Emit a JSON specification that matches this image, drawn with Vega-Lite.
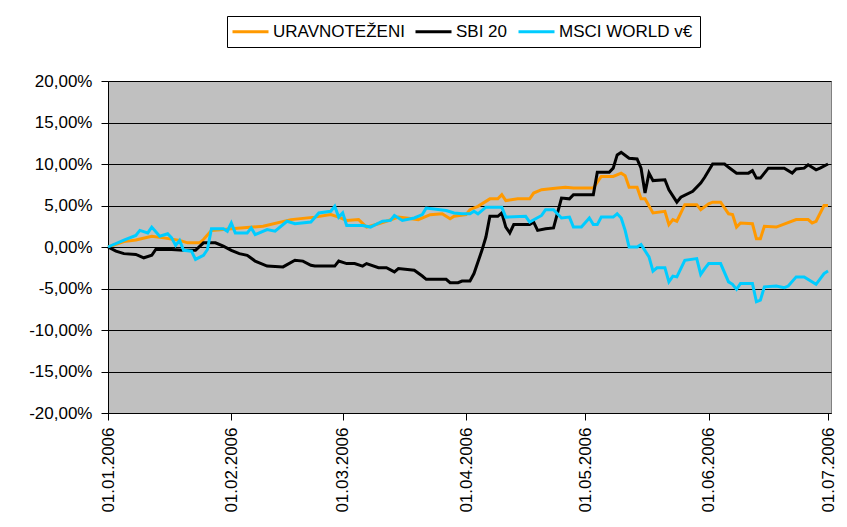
{
  "$schema": "https://vega.github.io/schema/vega-lite/v6.json",
  "width": 723,
  "height": 332,
  "autosize": {"type": "none"},
  "padding": {"left": 108, "top": 81, "right": 16, "bottom": 114},
  "background": "white",
  "config": {
    "view": {"fill": "#C0C0C0", "stroke": "#808080", "strokeWidth": 1},
    "font": "Liberation Sans"
  },
  "data": {"values": [
{"series":"URAVNOTEŽENI","date":"2006-01-01","value":0},{"series":"URAVNOTEŽENI","date":"2006-01-05","value":0.65},{"series":"URAVNOTEŽENI","date":"2006-01-08","value":0.84},{"series":"URAVNOTEŽENI","date":"2006-01-12","value":1.3},{"series":"URAVNOTEŽENI","date":"2006-01-15","value":1.1},{"series":"URAVNOTEŽENI","date":"2006-01-19","value":0.8},{"series":"URAVNOTEŽENI","date":"2006-01-21","value":0.5},{"series":"URAVNOTEŽENI","date":"2006-01-24","value":0.5},{"series":"URAVNOTEŽENI","date":"2006-01-25","value":0.9},{"series":"URAVNOTEŽENI","date":"2006-01-27","value":2.0},{"series":"URAVNOTEŽENI","date":"2006-01-30","value":2.1},{"series":"URAVNOTEŽENI","date":"2006-02-01","value":2.2},{"series":"URAVNOTEŽENI","date":"2006-02-09","value":2.5},{"series":"URAVNOTEŽENI","date":"2006-02-16","value":3.3},{"series":"URAVNOTEŽENI","date":"2006-02-22","value":3.6},{"series":"URAVNOTEŽENI","date":"2006-02-26","value":3.9},{"series":"URAVNOTEŽENI","date":"2006-02-28","value":3.6},{"series":"URAVNOTEŽENI","date":"2006-03-02","value":3.2},{"series":"URAVNOTEŽENI","date":"2006-03-05","value":3.3},{"series":"URAVNOTEŽENI","date":"2006-03-07","value":2.4},{"series":"URAVNOTEŽENI","date":"2006-03-10","value":2.8},{"series":"URAVNOTEŽENI","date":"2006-03-12","value":3.1},{"series":"URAVNOTEŽENI","date":"2006-03-15","value":3.6},{"series":"URAVNOTEŽENI","date":"2006-03-20","value":3.3},{"series":"URAVNOTEŽENI","date":"2006-03-23","value":3.9},{"series":"URAVNOTEŽENI","date":"2006-03-26","value":4.0},{"series":"URAVNOTEŽENI","date":"2006-03-28","value":3.4},{"series":"URAVNOTEŽENI","date":"2006-03-29","value":3.7},{"series":"URAVNOTEŽENI","date":"2006-04-01","value":3.9},{"series":"URAVNOTEŽENI","date":"2006-04-02","value":4.5},{"series":"URAVNOTEŽENI","date":"2006-04-04","value":4.9},{"series":"URAVNOTEŽENI","date":"2006-04-07","value":5.8},{"series":"URAVNOTEŽENI","date":"2006-04-09","value":5.8},{"series":"URAVNOTEŽENI","date":"2006-04-10","value":6.3},{"series":"URAVNOTEŽENI","date":"2006-04-11","value":5.6},{"series":"URAVNOTEŽENI","date":"2006-04-14","value":5.8},{"series":"URAVNOTEŽENI","date":"2006-04-17","value":5.8},{"series":"URAVNOTEŽENI","date":"2006-04-18","value":6.5},{"series":"URAVNOTEŽENI","date":"2006-04-20","value":6.9},{"series":"URAVNOTEŽENI","date":"2006-04-24","value":7.1},{"series":"URAVNOTEŽENI","date":"2006-04-26","value":7.2},{"series":"URAVNOTEŽENI","date":"2006-04-28","value":7.1},{"series":"URAVNOTEŽENI","date":"2006-04-30","value":7.1},{"series":"URAVNOTEŽENI","date":"2006-05-03","value":7.1},{"series":"URAVNOTEŽENI","date":"2006-05-05","value":8.5},{"series":"URAVNOTEŽENI","date":"2006-05-08","value":8.5},{"series":"URAVNOTEŽENI","date":"2006-05-10","value":8.9},{"series":"URAVNOTEŽENI","date":"2006-05-11","value":8.6},{"series":"URAVNOTEŽENI","date":"2006-05-12","value":7.2},{"series":"URAVNOTEŽENI","date":"2006-05-14","value":7.2},{"series":"URAVNOTEŽENI","date":"2006-05-15","value":5.8},{"series":"URAVNOTEŽENI","date":"2006-05-16","value":5.8},{"series":"URAVNOTEŽENI","date":"2006-05-18","value":4.1},{"series":"URAVNOTEŽENI","date":"2006-05-21","value":4.3},{"series":"URAVNOTEŽENI","date":"2006-05-22","value":2.7},{"series":"URAVNOTEŽENI","date":"2006-05-23","value":3.3},{"series":"URAVNOTEŽENI","date":"2006-05-24","value":3.1},{"series":"URAVNOTEŽENI","date":"2006-05-26","value":5.1},{"series":"URAVNOTEŽENI","date":"2006-05-29","value":5.1},{"series":"URAVNOTEŽENI","date":"2006-05-30","value":4.5},{"series":"URAVNOTEŽENI","date":"2006-06-01","value":5.2},{"series":"URAVNOTEŽENI","date":"2006-06-02","value":5.4},{"series":"URAVNOTEŽENI","date":"2006-06-04","value":5.4},{"series":"URAVNOTEŽENI","date":"2006-06-06","value":4.0},{"series":"URAVNOTEŽENI","date":"2006-06-07","value":3.9},{"series":"URAVNOTEŽENI","date":"2006-06-08","value":2.4},{"series":"URAVNOTEŽENI","date":"2006-06-09","value":2.9},{"series":"URAVNOTEŽENI","date":"2006-06-12","value":2.8},{"series":"URAVNOTEŽENI","date":"2006-06-13","value":1.0},{"series":"URAVNOTEŽENI","date":"2006-06-14","value":1.0},{"series":"URAVNOTEŽENI","date":"2006-06-15","value":2.5},{"series":"URAVNOTEŽENI","date":"2006-06-18","value":2.4},{"series":"URAVNOTEŽENI","date":"2006-06-23","value":3.3},{"series":"URAVNOTEŽENI","date":"2006-06-26","value":3.3},{"series":"URAVNOTEŽENI","date":"2006-06-27","value":2.9},{"series":"URAVNOTEŽENI","date":"2006-06-28","value":3.1},{"series":"URAVNOTEŽENI","date":"2006-06-30","value":5.0},{"series":"URAVNOTEŽENI","date":"2006-07-01","value":5.0},
{"series":"SBI 20","date":"2006-01-01","value":0},{"series":"SBI 20","date":"2006-01-03","value":-0.5},{"series":"SBI 20","date":"2006-01-05","value":-0.8},{"series":"SBI 20","date":"2006-01-08","value":-0.9},{"series":"SBI 20","date":"2006-01-10","value":-1.3},{"series":"SBI 20","date":"2006-01-12","value":-1.0},{"series":"SBI 20","date":"2006-01-13","value":-0.3},{"series":"SBI 20","date":"2006-01-17","value":-0.3},{"series":"SBI 20","date":"2006-01-20","value":-0.4},{"series":"SBI 20","date":"2006-01-23","value":-0.4},{"series":"SBI 20","date":"2006-01-25","value":0.5},{"series":"SBI 20","date":"2006-01-28","value":0.5},{"series":"SBI 20","date":"2006-01-30","value":0.1},{"series":"SBI 20","date":"2006-02-01","value":-0.4},{"series":"SBI 20","date":"2006-02-03","value":-0.8},{"series":"SBI 20","date":"2006-02-05","value":-1.0},{"series":"SBI 20","date":"2006-02-07","value":-1.7},{"series":"SBI 20","date":"2006-02-10","value":-2.3},{"series":"SBI 20","date":"2006-02-14","value":-2.4},{"series":"SBI 20","date":"2006-02-17","value":-1.6},{"series":"SBI 20","date":"2006-02-19","value":-1.7},{"series":"SBI 20","date":"2006-02-21","value":-2.2},{"series":"SBI 20","date":"2006-02-22","value":-2.3},{"series":"SBI 20","date":"2006-02-27","value":-2.3},{"series":"SBI 20","date":"2006-02-28","value":-1.7},{"series":"SBI 20","date":"2006-03-02","value":-2.0},{"series":"SBI 20","date":"2006-03-04","value":-2.0},{"series":"SBI 20","date":"2006-03-06","value":-2.3},{"series":"SBI 20","date":"2006-03-07","value":-2.0},{"series":"SBI 20","date":"2006-03-10","value":-2.5},{"series":"SBI 20","date":"2006-03-12","value":-2.5},{"series":"SBI 20","date":"2006-03-14","value":-3.0},{"series":"SBI 20","date":"2006-03-15","value":-2.6},{"series":"SBI 20","date":"2006-03-19","value":-2.8},{"series":"SBI 20","date":"2006-03-21","value":-3.5},{"series":"SBI 20","date":"2006-03-22","value":-3.9},{"series":"SBI 20","date":"2006-03-27","value":-3.9},{"series":"SBI 20","date":"2006-03-28","value":-4.3},{"series":"SBI 20","date":"2006-03-30","value":-4.3},{"series":"SBI 20","date":"2006-03-31","value":-4.1},{"series":"SBI 20","date":"2006-04-02","value":-4.1},{"series":"SBI 20","date":"2006-04-03","value":-3.2},{"series":"SBI 20","date":"2006-04-05","value":-0.4},{"series":"SBI 20","date":"2006-04-06","value":1.2},{"series":"SBI 20","date":"2006-04-07","value":3.7},{"series":"SBI 20","date":"2006-04-09","value":3.7},{"series":"SBI 20","date":"2006-04-10","value":4.1},{"series":"SBI 20","date":"2006-04-11","value":2.4},{"series":"SBI 20","date":"2006-04-12","value":1.7},{"series":"SBI 20","date":"2006-04-13","value":2.7},{"series":"SBI 20","date":"2006-04-17","value":2.7},{"series":"SBI 20","date":"2006-04-18","value":3.0},{"series":"SBI 20","date":"2006-04-19","value":2.0},{"series":"SBI 20","date":"2006-04-21","value":2.2},{"series":"SBI 20","date":"2006-04-23","value":2.3},{"series":"SBI 20","date":"2006-04-25","value":5.9},{"series":"SBI 20","date":"2006-04-27","value":5.8},{"series":"SBI 20","date":"2006-04-28","value":6.3},{"series":"SBI 20","date":"2006-05-03","value":6.3},{"series":"SBI 20","date":"2006-05-04","value":9.0},{"series":"SBI 20","date":"2006-05-07","value":9.0},{"series":"SBI 20","date":"2006-05-08","value":9.5},{"series":"SBI 20","date":"2006-05-09","value":11.1},{"series":"SBI 20","date":"2006-05-10","value":11.4},{"series":"SBI 20","date":"2006-05-12","value":10.7},{"series":"SBI 20","date":"2006-05-14","value":10.6},{"series":"SBI 20","date":"2006-05-15","value":9.5},{"series":"SBI 20","date":"2006-05-16","value":6.5},{"series":"SBI 20","date":"2006-05-17","value":8.9},{"series":"SBI 20","date":"2006-05-18","value":8.0},{"series":"SBI 20","date":"2006-05-21","value":8.1},{"series":"SBI 20","date":"2006-05-22","value":6.9},{"series":"SBI 20","date":"2006-05-24","value":5.4},{"series":"SBI 20","date":"2006-05-25","value":6.0},{"series":"SBI 20","date":"2006-05-28","value":6.7},{"series":"SBI 20","date":"2006-05-30","value":7.7},{"series":"SBI 20","date":"2006-05-31","value":8.4},{"series":"SBI 20","date":"2006-06-02","value":10.0},{"series":"SBI 20","date":"2006-06-05","value":10.0},{"series":"SBI 20","date":"2006-06-06","value":9.6},{"series":"SBI 20","date":"2006-06-08","value":8.9},{"series":"SBI 20","date":"2006-06-11","value":8.9},{"series":"SBI 20","date":"2006-06-12","value":9.2},{"series":"SBI 20","date":"2006-06-13","value":8.3},{"series":"SBI 20","date":"2006-06-14","value":8.3},{"series":"SBI 20","date":"2006-06-16","value":9.5},{"series":"SBI 20","date":"2006-06-20","value":9.5},{"series":"SBI 20","date":"2006-06-22","value":8.9},{"series":"SBI 20","date":"2006-06-23","value":9.4},{"series":"SBI 20","date":"2006-06-25","value":9.5},{"series":"SBI 20","date":"2006-06-26","value":9.9},{"series":"SBI 20","date":"2006-06-28","value":9.3},{"series":"SBI 20","date":"2006-06-29","value":9.5},{"series":"SBI 20","date":"2006-07-01","value":10.0},
{"series":"MSCI WORLD v€","date":"2006-01-01","value":0},{"series":"MSCI WORLD v€","date":"2006-01-05","value":0.84},{"series":"MSCI WORLD v€","date":"2006-01-08","value":1.4},{"series":"MSCI WORLD v€","date":"2006-01-09","value":2.0},{"series":"MSCI WORLD v€","date":"2006-01-11","value":1.7},{"series":"MSCI WORLD v€","date":"2006-01-12","value":2.4},{"series":"MSCI WORLD v€","date":"2006-01-14","value":1.3},{"series":"MSCI WORLD v€","date":"2006-01-16","value":1.6},{"series":"MSCI WORLD v€","date":"2006-01-17","value":1.1},{"series":"MSCI WORLD v€","date":"2006-01-18","value":0.2},{"series":"MSCI WORLD v€","date":"2006-01-19","value":0.8},{"series":"MSCI WORLD v€","date":"2006-01-20","value":-0.4},{"series":"MSCI WORLD v€","date":"2006-01-22","value":-0.5},{"series":"MSCI WORLD v€","date":"2006-01-23","value":-1.5},{"series":"MSCI WORLD v€","date":"2006-01-25","value":-1.0},{"series":"MSCI WORLD v€","date":"2006-01-26","value":-0.3},{"series":"MSCI WORLD v€","date":"2006-01-27","value":2.2},{"series":"MSCI WORLD v€","date":"2006-01-30","value":2.2},{"series":"MSCI WORLD v€","date":"2006-01-31","value":1.9},{"series":"MSCI WORLD v€","date":"2006-02-01","value":2.9},{"series":"MSCI WORLD v€","date":"2006-02-02","value":1.7},{"series":"MSCI WORLD v€","date":"2006-02-05","value":1.7},{"series":"MSCI WORLD v€","date":"2006-02-06","value":2.3},{"series":"MSCI WORLD v€","date":"2006-02-07","value":1.5},{"series":"MSCI WORLD v€","date":"2006-02-10","value":2.1},{"series":"MSCI WORLD v€","date":"2006-02-12","value":1.9},{"series":"MSCI WORLD v€","date":"2006-02-15","value":3.1},{"series":"MSCI WORLD v€","date":"2006-02-17","value":2.8},{"series":"MSCI WORLD v€","date":"2006-02-21","value":3.0},{"series":"MSCI WORLD v€","date":"2006-02-23","value":4.1},{"series":"MSCI WORLD v€","date":"2006-02-26","value":4.3},{"series":"MSCI WORLD v€","date":"2006-02-27","value":4.9},{"series":"MSCI WORLD v€","date":"2006-02-28","value":3.6},{"series":"MSCI WORLD v€","date":"2006-03-01","value":4.1},{"series":"MSCI WORLD v€","date":"2006-03-02","value":2.6},{"series":"MSCI WORLD v€","date":"2006-03-06","value":2.6},{"series":"MSCI WORLD v€","date":"2006-03-08","value":2.4},{"series":"MSCI WORLD v€","date":"2006-03-11","value":3.1},{"series":"MSCI WORLD v€","date":"2006-03-13","value":3.2},{"series":"MSCI WORLD v€","date":"2006-03-14","value":3.8},{"series":"MSCI WORLD v€","date":"2006-03-16","value":3.2},{"series":"MSCI WORLD v€","date":"2006-03-19","value":3.5},{"series":"MSCI WORLD v€","date":"2006-03-21","value":3.9},{"series":"MSCI WORLD v€","date":"2006-03-22","value":4.7},{"series":"MSCI WORLD v€","date":"2006-03-27","value":4.4},{"series":"MSCI WORLD v€","date":"2006-03-29","value":4.1},{"series":"MSCI WORLD v€","date":"2006-03-31","value":4.0},{"series":"MSCI WORLD v€","date":"2006-04-02","value":4.0},{"series":"MSCI WORLD v€","date":"2006-04-03","value":4.3},{"series":"MSCI WORLD v€","date":"2006-04-04","value":4.0},{"series":"MSCI WORLD v€","date":"2006-04-06","value":4.8},{"series":"MSCI WORLD v€","date":"2006-04-10","value":4.8},{"series":"MSCI WORLD v€","date":"2006-04-11","value":3.6},{"series":"MSCI WORLD v€","date":"2006-04-16","value":3.7},{"series":"MSCI WORLD v€","date":"2006-04-17","value":3.0},{"series":"MSCI WORLD v€","date":"2006-04-20","value":3.8},{"series":"MSCI WORLD v€","date":"2006-04-21","value":4.5},{"series":"MSCI WORLD v€","date":"2006-04-23","value":4.5},{"series":"MSCI WORLD v€","date":"2006-04-25","value":3.5},{"series":"MSCI WORLD v€","date":"2006-04-27","value":3.6},{"series":"MSCI WORLD v€","date":"2006-04-28","value":2.4},{"series":"MSCI WORLD v€","date":"2006-04-30","value":2.4},{"series":"MSCI WORLD v€","date":"2006-05-02","value":3.5},{"series":"MSCI WORLD v€","date":"2006-05-03","value":2.7},{"series":"MSCI WORLD v€","date":"2006-05-04","value":2.7},{"series":"MSCI WORLD v€","date":"2006-05-05","value":3.6},{"series":"MSCI WORLD v€","date":"2006-05-08","value":3.6},{"series":"MSCI WORLD v€","date":"2006-05-09","value":4.0},{"series":"MSCI WORLD v€","date":"2006-05-10","value":3.5},{"series":"MSCI WORLD v€","date":"2006-05-11","value":2.0},{"series":"MSCI WORLD v€","date":"2006-05-12","value":0.0},{"series":"MSCI WORLD v€","date":"2006-05-14","value":0.0},{"series":"MSCI WORLD v€","date":"2006-05-15","value":0.3},{"series":"MSCI WORLD v€","date":"2006-05-17","value":-1.2},{"series":"MSCI WORLD v€","date":"2006-05-18","value":-2.9},{"series":"MSCI WORLD v€","date":"2006-05-19","value":-2.5},{"series":"MSCI WORLD v€","date":"2006-05-21","value":-2.5},{"series":"MSCI WORLD v€","date":"2006-05-22","value":-4.2},{"series":"MSCI WORLD v€","date":"2006-05-23","value":-3.5},{"series":"MSCI WORLD v€","date":"2006-05-24","value":-3.6},{"series":"MSCI WORLD v€","date":"2006-05-26","value":-1.6},{"series":"MSCI WORLD v€","date":"2006-05-29","value":-1.4},{"series":"MSCI WORLD v€","date":"2006-05-30","value":-3.3},{"series":"MSCI WORLD v€","date":"2006-05-31","value":-2.6},{"series":"MSCI WORLD v€","date":"2006-06-01","value":-2.0},{"series":"MSCI WORLD v€","date":"2006-06-04","value":-2.0},{"series":"MSCI WORLD v€","date":"2006-06-06","value":-4.2},{"series":"MSCI WORLD v€","date":"2006-06-07","value":-4.5},{"series":"MSCI WORLD v€","date":"2006-06-08","value":-5.1},{"series":"MSCI WORLD v€","date":"2006-06-09","value":-4.4},{"series":"MSCI WORLD v€","date":"2006-06-12","value":-4.4},{"series":"MSCI WORLD v€","date":"2006-06-13","value":-6.6},{"series":"MSCI WORLD v€","date":"2006-06-14","value":-6.4},{"series":"MSCI WORLD v€","date":"2006-06-15","value":-4.8},{"series":"MSCI WORLD v€","date":"2006-06-18","value":-4.7},{"series":"MSCI WORLD v€","date":"2006-06-20","value":-4.9},{"series":"MSCI WORLD v€","date":"2006-06-21","value":-4.7},{"series":"MSCI WORLD v€","date":"2006-06-23","value":-3.6},{"series":"MSCI WORLD v€","date":"2006-06-25","value":-3.6},{"series":"MSCI WORLD v€","date":"2006-06-28","value":-4.5},{"series":"MSCI WORLD v€","date":"2006-06-30","value":-3.2},{"series":"MSCI WORLD v€","date":"2006-07-01","value":-2.9}
  ]},
  "mark": {"type": "line", "strokeWidth": 3},
  "encoding": {
    "x": {
      "field": "date",
      "type": "temporal",
      "scale": {"type": "utc", "domain": [{"year": 2006, "month": 1, "date": 1, "utc": true}, {"year": 2006, "month": 7, "date": 1, "hours": 18, "utc": true}]},
      "axis": {
        "title": null,
        "values": [
          {"year": 2006, "month": 1, "date": 1, "utc": true},
          {"year": 2006, "month": 2, "date": 1, "utc": true},
          {"year": 2006, "month": 3, "date": 1, "utc": true},
          {"year": 2006, "month": 4, "date": 1, "utc": true},
          {"year": 2006, "month": 5, "date": 1, "utc": true},
          {"year": 2006, "month": 6, "date": 1, "utc": true},
          {"year": 2006, "month": 7, "date": 1, "utc": true}
        ],
        "labelExpr": "utcFormat(datum.value, '%d.%m.%Y')",
        "labelAngle": 270,
        "labelAlign": "right",
        "labelBaseline": "middle",
        "labelFontSize": 17,
        "labelFont": "Liberation Sans",
        "labelColor": "#000000",
        "labelPadding": 7,
        "labelOverlap": false,
        "labelBound": false,
        "labelFlush": false,
        "grid": false,
        "tickColor": "#000000",
        "tickSize": 7,
        "domainColor": "#000000"
      }
    },
    "y": {
      "field": "value",
      "type": "quantitative",
      "scale": {"domain": [-20, 20], "nice": false, "zero": false},
      "axis": {
        "title": null,
        "values": [-20, -15, -10, -5, 0, 5, 10, 15, 20],
        "labelExpr": "(datum.value < 0 ? '-' : '') + replace(format(abs(datum.value), '.2f'), '.', ',') + '%'",
        "labelFontSize": 17,
        "labelFont": "Liberation Sans",
        "labelColor": "#000000",
        "labelPadding": 9,
        "labelOverlap": false,
        "labelBound": false,
        "labelFlush": false,
        "grid": true,
        "gridColor": "#000000",
        "gridWidth": 1,
        "gridOpacity": 1,
        "tickColor": "#000000",
        "tickSize": 7,
        "domainColor": "#000000"
      }
    },
    "color": {
      "field": "series",
      "type": "nominal",
      "scale": {"domain": ["URAVNOTEŽENI", "SBI 20", "MSCI WORLD v€"], "range": ["#FF9900", "#000000", "#00CCFF"]},
      "legend": {
        "orient": "none",
        "legendX": 119,
        "legendY": -65,
        "direction": "horizontal",
        "title": null,
        "symbolType": "M-3,0H3",
        "symbolSize": 144,
        "symbolStrokeWidth": 3,
        "symbolOffset": 8,
        "labelFontSize": 17,
        "labelFont": "Liberation Sans",
        "labelColor": "#000000",
        "labelOffset": 14,
        "labelLimit": 300,
        "columnPadding": 4,
        "strokeColor": "#000000",
        "fillColor": "#FFFFFF",
        "padding": 7
      }
    }
  }
}
